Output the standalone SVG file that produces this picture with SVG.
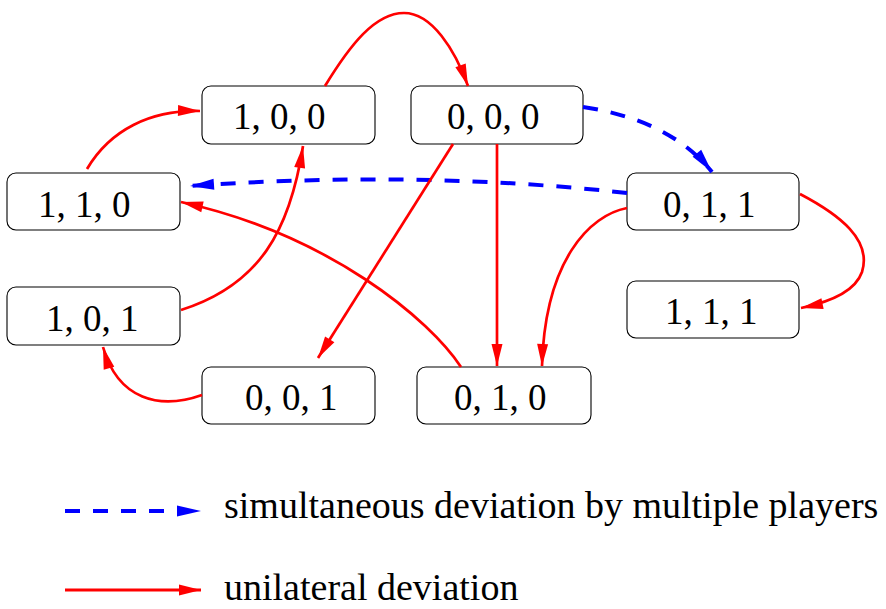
<svg xmlns="http://www.w3.org/2000/svg" width="886" height="609" viewBox="0 0 886 609">
<style>
.box{fill:#fff;stroke:#000;stroke-width:1.1}
.lbl{font-family:"Liberation Serif","Times New Roman",serif;font-size:37px;fill:#000}
.leg{font-family:"Liberation Serif","Times New Roman",serif;font-size:38px;fill:#000}
.red{fill:none;stroke:#f00;stroke-width:2.7}
.blue{fill:none;stroke:#00f;stroke-width:4;stroke-dasharray:15 13}
</style>
<defs>
<marker id="ar" markerUnits="userSpaceOnUse" markerWidth="24" markerHeight="12" refX="22" refY="5.5" orient="auto" overflow="visible">
<path d="M0,0 L22,5.5 L0,11 z" fill="#f00"/>
</marker>
<marker id="ab" markerUnits="userSpaceOnUse" markerWidth="26" markerHeight="12" refX="24" refY="5.5" orient="auto" overflow="visible">
<path d="M0,0 L24,5.5 L0,11 z" fill="#00f"/>
</marker>
</defs>
<g id="n100"><rect class="box" x="202" y="86" width="173" height="58" rx="9"/><text class="lbl" x="233" y="129">1, 0, 0</text></g>
<g id="n000"><rect class="box" x="411" y="86" width="172" height="58" rx="9"/><text class="lbl" x="447" y="129">0, 0, 0</text></g>
<g id="n110"><rect class="box" x="7" y="173" width="173" height="57" rx="9"/><text class="lbl" x="38" y="217">1, 1, 0</text></g>
<g id="n011"><rect class="box" x="627" y="173" width="172" height="57" rx="9"/><text class="lbl" x="663" y="217">0, 1, 1</text></g>
<g id="n101"><rect class="box" x="7" y="287" width="173" height="58" rx="9"/><text class="lbl" x="46" y="331">1, 0, 1</text></g>
<g id="n111"><rect class="box" x="627" y="281" width="172" height="57" rx="9"/><text class="lbl" x="665" y="324">1, 1, 1</text></g>
<g id="n001"><rect class="box" x="202" y="367" width="173" height="57" rx="9"/><text class="lbl" x="245" y="410">0, 0, 1</text></g>
<g id="n010"><rect class="box" x="417" y="367" width="174" height="57" rx="9"/><text class="lbl" x="454" y="410">0, 1, 0</text></g>
<g id="connectors">
<path class="red" marker-end="url(#ar)" d="M87,169 C110,130 150,110 200,111"/>
<path class="red" marker-end="url(#ar)" d="M325,86 C350,45 375,13 404,13 C432,13 455,50 468,86"/>
<path class="blue" marker-end="url(#ab)" d="M583,107 Q670,120 712,172"/>
<path class="blue" marker-end="url(#ab)" d="M627,193 Q420,170 190,186"/>
<path class="red" marker-end="url(#ar)" d="M461,367 C430,320 330,235 181,202"/>
<path class="red" marker-end="url(#ar)" d="M181,310 C260,285 290,230 303,146"/>
<path class="red" marker-end="url(#ar)" d="M453,144 L318,358"/>
<path class="red" marker-end="url(#ar)" d="M497,144 L497,366"/>
<path class="red" marker-end="url(#ar)" d="M627,208 C590,215 545,260 542,366"/>
<path class="red" marker-end="url(#ar)" d="M800,194 C840,215 872,240 862,272 C855,292 830,302 801,308"/>
<path class="red" marker-end="url(#ar)" d="M202,395 C160,410 118,400 103,347"/>
</g>
<g id="legend">
<path class="blue" marker-end="url(#ab)" d="M65,511 L201,511"/>
<text class="leg" x="224" y="518">simultaneous deviation by multiple players</text>
<path class="red" style="stroke-width:3" marker-end="url(#ar)" d="M65,590 L201,590"/>
<text class="leg" x="224" y="600">unilateral deviation</text>
</g>
</svg>
